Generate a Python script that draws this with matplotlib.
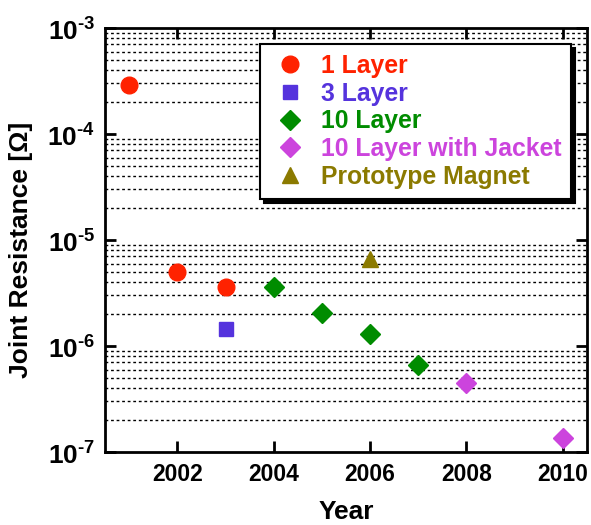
import matplotlib
matplotlib.use("Agg")
import matplotlib.pyplot as plt
import numpy as np

plt.rcParams['font.family'] = ['Liberation Sans', 'DejaVu Sans']
plt.rcParams['mathtext.fontset'] = 'custom'
plt.rcParams['mathtext.rm'] = 'Liberation Sans:bold'
plt.rcParams['mathtext.bf'] = 'Liberation Sans:bold'

years_1 = [2001, 2002, 2003]
res_1 = [2.9e-4, 5.0e-6, 3.6e-6]
years_3 = [2003]
res_3 = [1.44e-6]
years_10 = [2004, 2005, 2006, 2007]
res_10 = [3.6e-6, 2.05e-6, 1.3e-6, 6.6e-7]
years_j = [2008, 2010]
res_j = [4.5e-7, 1.36e-7]
years_p = [2006]
res_p = [6.6e-6]

labels = ["1 Layer", "3 Layer", "10 Layer", "10 Layer with Jacket", "Prototype Magnet"]
colors = ["#FF2200", "#5533DD", "#008C00", "#CC44DD", "#8B7A00"]
xticks = [2002, 2004, 2006, 2008, 2010]
ytick_exps = [-7, -6, -5, -4, -3]

fig = plt.figure(figsize=(5.91, 5.25), dpi=100)
ax = fig.add_axes([0.1777, 0.139, 0.8155, 0.8077])
ax.set_yscale('log')
ax.set_xlim(2000.5, 2010.5)
ax.set_ylim(1e-7, 1e-3)

# dotted grid at minor decades
for d in range(-7, -3):
    for m in range(2, 10):
        ax.axhline(m * 10.0 ** d, color='black', linestyle=(0, (2, 2)), linewidth=1.0, zorder=1)

ax.plot(years_1, res_1, 'o', color=colors[0], markersize=12, label=labels[0], zorder=3, linestyle='none')
ax.plot(years_3, res_3, 's', color=colors[1], markersize=10, label=labels[1], zorder=3, linestyle='none')
ax.plot(years_10, res_10, 'D', color=colors[2], markersize=10, label=labels[2], zorder=3, linestyle='none')
ax.plot(years_j, res_j, 'D', color=colors[3], markersize=10, label=labels[3], zorder=3, linestyle='none')
ax.plot(years_p, res_p, '^', color=colors[4], markersize=11, label=labels[4], zorder=3, linestyle='none')

ax.set_xticks(xticks)
ax.set_xticklabels([str(x) for x in xticks], fontsize=16.5, fontweight='bold')
ax.yaxis.set_minor_locator(matplotlib.ticker.NullLocator())
ax.set_yticks([10.0 ** e for e in ytick_exps])
ax.set_yticklabels([r'$10^{\text{-%d}}$' % (-e) for e in ytick_exps], fontsize=19)
ax.tick_params(axis='both', which='major', direction='in', length=8, width=2, top=True, right=True)
ax.tick_params(axis='x', pad=8)
ax.tick_params(axis='y', pad=7)
for s in ax.spines.values():
    s.set_linewidth(2)

ax.set_xlabel('Year', fontsize=19, fontweight='bold', labelpad=10)
ax.set_ylabel('Joint Resistance [Ω]', fontsize=19, fontweight='bold')
ax.yaxis.set_label_coords(-0.149, 0.476)

leg = ax.legend(loc='upper left', bbox_to_anchor=(0.322, 0.962), frameon=True, fancybox=False,
                shadow={'color': 'black', 'alpha': 1.0, 'ox': 3, 'oy': -3}, edgecolor='black', framealpha=1,
                prop={'weight': 'bold', 'size': 17.8}, handletextpad=0.45, labelspacing=0.15,
                borderpad=0.4, handlelength=1.6, borderaxespad=0)
leg.get_frame().set_linewidth(1.5)
for t, c in zip(leg.get_texts(), colors):
    t.set_color(c)
leg.set_zorder(5)

fig.savefig('out.png', dpi=100)
